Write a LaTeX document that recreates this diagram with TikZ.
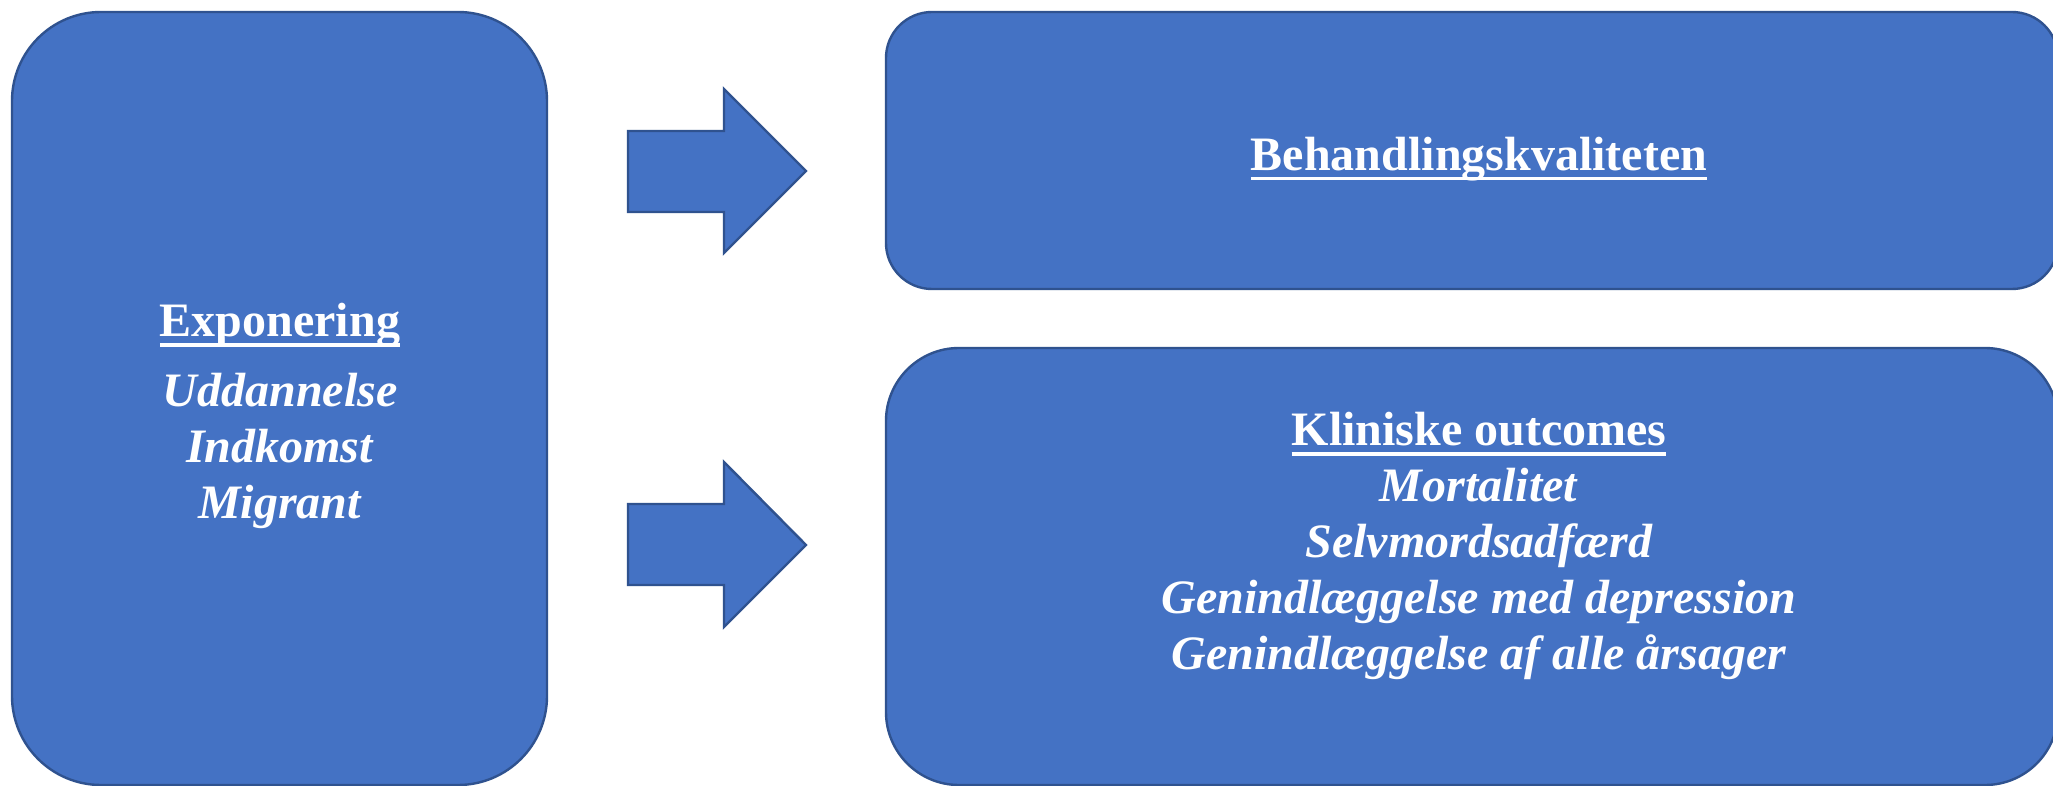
\documentclass[tikz,border=0pt]{standalone}
\usepackage{fontspec}
\setmainfont{Liberation Serif}
\definecolor{boxfill}{HTML}{4472C4}
\definecolor{boxline}{HTML}{2F528F}
\newcommand\myul[1]{\setbox0\hbox{#1}\rlap{\rule[-5pt]{\wd0}{1.6pt}}\box0}
\tikzset{
  blk/.style={draw=boxline, fill=boxfill, line width=1.2pt, inner sep=0pt, outer sep=0pt},
  arrowshape/.style={draw=boxline, fill=boxfill, line width=1.2pt, line join=miter},
  txt/.style={text=white, align=center, font=\fontsize{24}{28}\selectfont, inner sep=0pt}
}
\begin{document}
\begin{tikzpicture}[x=0.5pt,y=-0.5pt]
\clip (0,0) rectangle (2053,786);
\fill[white] (0,0) rectangle (2053,786);
% boxes
\node[blk, rounded corners=44.5pt, minimum width=267.5pt, minimum height=386.5pt] (expo) at (279.5,398.5) {};
\node[blk, rounded corners=23pt, minimum width=586pt, minimum height=138.5pt] (behand) at (1472,150.5) {};
\node[blk, rounded corners=36.5pt, minimum width=586pt, minimum height=218.5pt] (klin) at (1472,566.5) {};
% texts
\node[txt] (expotxt) at (280,416) {\textbf{\myul{Exponering}}\\[7pt]\textit{\textbf{Uddannelse}}\\\textit{\textbf{Indkomst}}\\\textit{\textbf{Migrant}}};
\node[txt] (behandtxt) at (1479,159) {\textbf{\myul{Behandlingskvaliteten}}};
\node[txt] (klintxt) at (1479,546) {\textbf{\myul{Kliniske outcomes}}\\\textit{\textbf{Mortalitet}}\\\textit{\textbf{Selvmordsadfærd}}\\\textit{\textbf{Genindlæggelse med depression}}\\\textit{\textbf{Genindlæggelse af alle årsager}}};
% block arrows
\draw[arrowshape] (628,131) -- (724,131) -- (724,89) -- (806,171) -- (724,253) -- (724,212) -- (628,212) -- cycle;
\draw[arrowshape] (628,504) -- (724,504) -- (724,462) -- (806,545) -- (724,627) -- (724,585) -- (628,585) -- cycle;
\end{tikzpicture}
\end{document}
